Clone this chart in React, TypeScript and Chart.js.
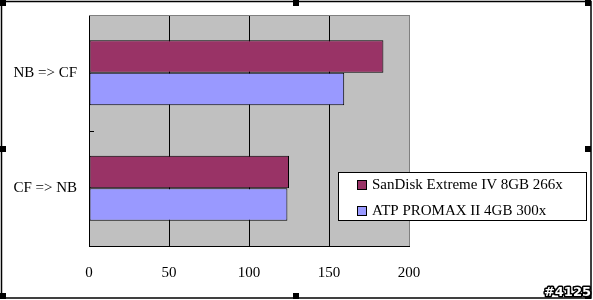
import React, { useEffect, useRef } from 'react';
import { Chart, registerables } from 'chart.js';

Chart.register(...registerables);

const categories = ['NB => CF', 'CF => NB'];
const seriesNames = ['SanDisk Extreme IV 8GB 266x', 'ATP PROMAX II 4GB 300x'];
const sandiskValues = [184, 125];
const atpValues = [159.5, 124];
const seriesColors = ['#993366', '#9999FF'];
const xMin = 0;
const xMax = 200;
const xStep = 50;
const watermark = '#4125';

const SERIF = "'Liberation Serif', 'Times New Roman', serif";

const decorPlugin = {
  id: 'decor',
  beforeDraw(chart: any) {
    const { ctx, chartArea } = chart;
    ctx.save();
    ctx.fillStyle = '#FFFFFF';
    ctx.fillRect(0, 0, chart.width, chart.height);
    ctx.fillStyle = '#C0C0C0';
    ctx.fillRect(chartArea.left, chartArea.top, chartArea.right - chartArea.left, chartArea.bottom - chartArea.top);
    ctx.restore();
  },
  beforeDatasetsDraw(chart: any) {
    const { ctx, chartArea } = chart;
    ctx.save();
    ctx.strokeStyle = '#808080';
    ctx.lineWidth = 1;
    ctx.beginPath();
    ctx.moveTo(chartArea.left, Math.round(chartArea.top) + 0.5);
    ctx.lineTo(chartArea.right, Math.round(chartArea.top) + 0.5);
    ctx.stroke();
    // small tick between categories on the category axis
    const yScale = chart.scales.y;
    ctx.strokeStyle = '#000000';
    for (let i = 0; i < categories.length - 1; i++) {
      const yb = Math.round((yScale.getPixelForValue(i) + yScale.getPixelForValue(i + 1)) / 2) + 0.5;
      ctx.beginPath();
      ctx.moveTo(chartArea.left, yb);
      ctx.lineTo(chartArea.left + 5, yb);
      ctx.stroke();
    }
    ctx.restore();
  },
  afterDraw(chart: any) {
    const { ctx } = chart;
    ctx.save();
    // legend
    const lx = 338.5, ly = 172.5, lw = 248, lh = 48;
    ctx.fillStyle = '#FFFFFF';
    ctx.fillRect(lx, ly, lw, lh);
    ctx.strokeStyle = '#000000';
    ctx.lineWidth = 1;
    ctx.strokeRect(lx, ly, lw, lh);
    ctx.font = `15px ${SERIF}`;
    ctx.textBaseline = 'middle';
    ctx.textAlign = 'left';
    chart.data.datasets.forEach((ds: any, i: number) => {
      const my = 180 + i * 26;
      ctx.fillStyle = ds.backgroundColor;
      ctx.fillRect(357, my, 10, 10);
      ctx.strokeStyle = '#000000';
      ctx.strokeRect(357.5, my + 0.5, 9, 9);
      ctx.fillStyle = '#000000';
      ctx.fillText(ds.label, 372, my + 5.5);
    });
    // frame
    ctx.strokeStyle = '#000000';
    ctx.lineWidth = 1.5;
    ctx.strokeRect(1.5, 1.5, 589.5, 296.5);
    ctx.fillStyle = '#000000';
    const hs = 6;
    const xs = [0, 293, 585];
    const ys = [0, 146, 293];
    xs.forEach((x) => ys.forEach((y) => {
      if (x === 293 && y === 146) return;
      ctx.fillRect(x, y, hs, hs);
    }));
    // watermark
    ctx.font = `bold 13px 'DejaVu Sans', sans-serif`;
    ctx.textAlign = 'right';
    ctx.textBaseline = 'alphabetic';
    ctx.lineWidth = 3;
    ctx.strokeStyle = '#000000';
    ctx.lineJoin = 'round';
    ctx.strokeText(watermark, 591, 296);
    ctx.fillStyle = '#FFFFFF';
    ctx.fillText(watermark, 591, 296);
    ctx.restore();
  },
};

export default function App() {
  const canvasRef = useRef<HTMLCanvasElement | null>(null);

  useEffect(() => {
    if (!canvasRef.current) return;
    const chart = new Chart(canvasRef.current, {
      type: 'bar',
      data: {
        labels: categories,
        datasets: [
          {
            label: seriesNames[0],
            data: sandiskValues,
            backgroundColor: seriesColors[0],
            borderColor: '#000000',
            borderWidth: 1,
            borderSkipped: false,
          },
          {
            label: seriesNames[1],
            data: atpValues,
            backgroundColor: seriesColors[1],
            borderColor: '#000000',
            borderWidth: 1,
            borderSkipped: false,
          },
        ],
      },
      options: {
        indexAxis: 'y',
        animation: false,
        responsive: false,
        maintainAspectRatio: false,
        devicePixelRatio: 1,
        categoryPercentage: 0.563,
        barPercentage: 1,
        layout: { padding: { top: 15, right: 184, left: 0, bottom: 0 } },
        plugins: {
          legend: { display: false },
          tooltip: { enabled: false },
          title: { display: false },
        },
        scales: {
          x: {
            min: xMin,
            max: xMax,
            afterFit: (s: any) => { s.height = 54; },
            ticks: {
              stepSize: xStep,
              color: '#000000',
              font: { family: SERIF, size: 15 },
              padding: 18,
            },
            grid: {
              drawTicks: false,
              color: (c: any) => (c.tick && c.tick.value === xMax ? '#808080' : '#000000'),
              lineWidth: 1,
            },
            border: { display: true, color: '#000000', width: 1 },
          },
          y: {
            afterFit: (s: any) => { s.width = 89; },
            ticks: {
              color: '#000000',
              font: { family: SERIF, size: 15 },
              padding: 4,
            },
            grid: { display: false },
            border: { display: true, color: '#000000', width: 1 },
          },
        },
      },
      plugins: [decorPlugin],
    } as any);
    return () => chart.destroy();
  }, []);

  return (
    <div style={{ position: 'fixed', left: 0, top: 0, width: 593, height: 300, background: '#fff' }}>
      <canvas ref={canvasRef} width={593} height={300} style={{ width: 593, height: 300, display: 'block' }} />
    </div>
  );
}
